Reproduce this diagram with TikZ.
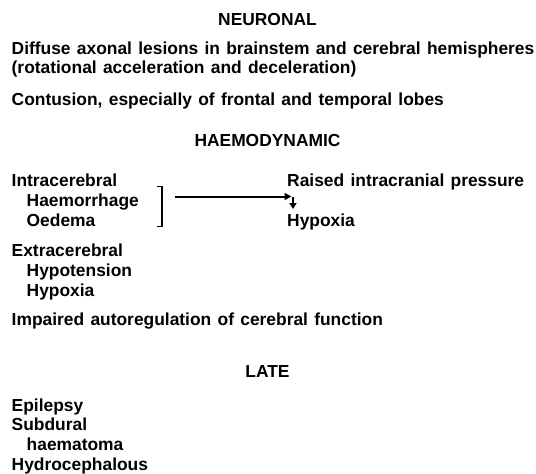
\documentclass[tikz,border=0pt]{standalone}
\usepackage{fontspec}
\setmainfont[WordSpace=1.3]{Liberation Sans}
\usetikzlibrary{arrows.meta,calc}
\begin{document}
\begin{tikzpicture}[x=1pt,y=-1pt,
  txt/.style={inner sep=0pt,anchor=base west,font=\fontsize{17.4}{20}\selectfont\bfseries},
  head/.style={inner sep=0pt,anchor=base,font=\fontsize{17.4}{20}\selectfont\bfseries},
  conn/.style={line width=2pt,-{Triangle[length=7pt,width=7pt]}},
  brk/.style={line width=1.7pt}]
\useasboundingbox (0,0) rectangle (536,474);
\node[head] (neur) at (267.5,25) {NEURONAL};
\node[txt] (diff) at (11.5,54.3) {Diffuse axonal lesions in brainstem and cerebral hemispheres};
\node[txt] (rot) at (11.5,73.5) {(rotational acceleration and deceleration)};
\node[txt] (cont) at (11.5,105) {Contusion, especially of frontal and temporal lobes};
\node[head] (haem) at (267.5,146.7) {HAEMODYNAMIC};
\node[txt] (intra) at (11.5,186.7) {Intracerebral};
\node[txt] (haemo) at (26.5,206.5) {Haemorrhage};
\node[txt] (oed) at (26.5,226.3) {Oedema};
\node[txt] (raised) at (287,186.7) {Raised intracranial pressure};
\node[txt] (hyp1) at (287,226.3) {Hypoxia};
\node[txt] (extra) at (11.5,256.7) {Extracerebral};
\node[txt] (hypot) at (26.5,276.4) {Hypotension};
\node[txt] (hyp2) at (26.5,296) {Hypoxia};
\node[txt] (imp) at (11.5,325.7) {Impaired autoregulation of cerebral function};
\node[head] (late) at (267.5,377.7) {LATE};
\node[txt] (epi) at (11.5,411) {Epilepsy};
\node[txt] (sub) at (11.5,430.7) {Subdural};
\node[txt] (haema) at (26.5,450.4) {haematoma};
\node[txt] (hydro) at (11.5,470) {Hydrocephalous};
\coordinate (bt) at (162,186.5);
\coordinate (bb) at (162,226.5);
\draw[brk] ($(bt)+(-5,0)$) -- (bt) -- (bb) -- ($(bb)+(-5,0)$);
\coordinate (as) at (175,196.5);
\coordinate (ae) at (291.5,196.5);
\draw[conn] (as) -- (ae);
\coordinate (ds) at (293,197);
\coordinate (de) at (293,209);
\draw[line width=1.6pt,-{Triangle[length=6pt,width=7pt]}] (ds) -- (de);
\end{tikzpicture}
\end{document}
